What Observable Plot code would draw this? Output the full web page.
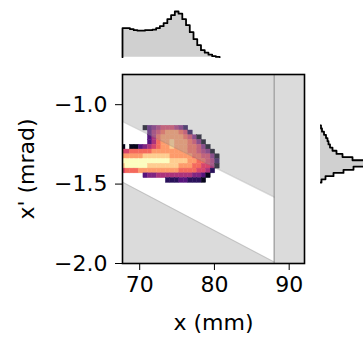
<!DOCTYPE html>
<html><head><meta charset="utf-8">
<script src="https://cdn.jsdelivr.net/npm/d3@7"></script>
<script src="https://cdn.jsdelivr.net/npm/@observablehq/plot@0.6"></script>
<style>
html,body{margin:0;padding:0;background:#fff;overflow:hidden;}
#fig{position:relative;width:363px;height:339px;overflow:hidden;font-family:"DejaVu Sans";}
#fig svg{position:absolute;top:0;background:transparent;}
</style></head><body><div id="fig"></div>
<script>
// axes
const xDomain = [67.7, 92.05];
const yDomain = [-2.0, -0.81];
const xTicks = [70, 80, 90];
const yTicks = [-2.0, -1.5, -1.0];

// acceptance boundaries (x in mm, x' in mrad)
const accX = [67.0, 88.0];
const accUpper = [-1.09, -1.582];
const accLower = [-1.47, -1.99];
const accXmax = 88.0;

// beam density heatmap
const colEdges = [67.5,68.1,68.7,69.3,69.9,70.5,71.1,71.7,72.3,72.9,73.5,74.1,74.7,75.3,75.9,76.5,77.1,77.7,78.3,78.9,79.5,80.1,80.7];
const rowEdges = [-1.1325,-1.1625,-1.1925,-1.2225,-1.2525,-1.2825,-1.3125,-1.3425,-1.3725,-1.4025,-1.4325,-1.4625,-1.4925];
const heat = [
  [0,0,0,0,0,1,3,4,5,6,6,6,5,4,2,0,0,0,0,0,0,0],
  [0,0,0,0,0,0,3,5,6,7,8,8,8,7,6,2,0,0,0,0,0,0],
  [0,0,0,0,0,0,3,5,7,8,8,8,8,8,7,6,4,1,0,0,0,0],
  [0,0,0,0,0,0,3,5,7,8,8,9,8,8,8,7,6,4,1,0,0,0],
  [1,0,1,1,3,4,5,6,7,8,8,9,8,8,8,7,7,6,4,1,0,0],
  [6,6,7,7,7,7,7,8,8,8,8,8,8,8,8,7,7,6,5,4,1,0],
  [8,8,8,8,8,9,9,9,9,9,9,8,8,8,8,8,7,7,6,6,4,1],
  [10,10,10,10,10,10,10,10,10,10,10,9,9,9,9,8,8,7,7,6,5,2],
  [9,10,10,10,10,10,9,9,9,9,9,9,9,8,8,8,7,7,6,6,5,1],
  [6,7,7,7,8,8,8,8,8,8,8,8,8,7,7,7,7,6,6,5,2,0],
  [0,0,0,0,0,3,4,4,5,5,5,5,5,5,5,5,4,4,3,1,0,0],
  [0,0,0,0,0,0,0,0,0,0,2,2,2,3,3,2,2,2,1,0,0,0]
];

// marginal histogram in x (top)
const histXEdges = [67.7,68.2,68.7,69.2,69.7,70.2,70.7,71.2,71.7,72.2,72.7,73.2,73.7,74.2,74.7,75.2,75.7,76.2,76.7,77.2,77.7,78.2,78.7,79.2,79.7,80.2,80.7];
const histXCounts = [29,29,28,27,26.5,26.5,27,27,27.5,29,31,34,38,42,45.7,43.5,38,32,25,18,12,7,4.5,2.5,1,0.3];

// marginal histogram in x' (right)
const histYEdges = [-1.13,-1.15,-1.17,-1.19,-1.21,-1.23,-1.25,-1.27,-1.29,-1.31,-1.33,-1.35,-1.37,-1.39,-1.41,-1.43,-1.45,-1.47,-1.49];
const histYCounts = [0.5,1.5,3.5,5.5,7,8,9.5,12,16,22,32,45,48,33,23,13,5,1];

function stepPoints(edges, counts) {
  const pts = [{e: edges[0], v: 0}];
  counts.forEach((c, i) => pts.push({e: edges[i], v: c}));
  pts.push({e: edges[edges.length - 1], v: 0});
  return pts;
}

const cells = [];
heat.forEach((row, r) => row.forEach((v, c) => {
  if (v > 0) cells.push({x1: colEdges[c], x2: colEdges[c + 1], y1: rowEdges[r + 1], y2: rowEdges[r], v});
}));
const upperPoly = accX.map((x, i) => ({x, lo: accUpper[i], hi: yDomain[1]}));
const lowerPoly = accX.map((x, i) => ({x, lo: yDomain[0], hi: accLower[i]}));
const grayFill = "#9a9a9a", grayOp = 0.36, edgeGray = "#808080";
const fontStyle = {fontFamily: "DejaVu Sans", fontSize: "22px", background: "transparent", color: "black"};

const mainPlot = Plot.plot({
  width: 363, height: 339,
  marginLeft: 122, marginRight: 59, marginTop: 74, marginBottom: 76,
  style: fontStyle,
  x: {domain: xDomain},
  y: {domain: yDomain},
  color: {type: "linear", scheme: "magma", domain: [0.5, 10]},
  marks: [
    Plot.rect(cells, {x1: "x1", x2: "x2", y1: "y1", y2: "y2", fill: "v", stroke: "v", strokeWidth: 0.4, clip: true}),
    Plot.areaY(upperPoly, {x: "x", y1: "lo", y2: "hi", fill: grayFill, fillOpacity: grayOp, clip: true}),
    Plot.areaY(lowerPoly, {x: "x", y1: "lo", y2: "hi", fill: grayFill, fillOpacity: grayOp, clip: true}),
    Plot.rect([{x1: accXmax, x2: xDomain[1], y1: yDomain[0], y2: yDomain[1]}], {x1: "x1", x2: "x2", y1: "y1", y2: "y2", fill: grayFill, fillOpacity: grayOp, clip: true}),
    Plot.line(accX.map((x, i) => ({x, y: accUpper[i]})), {x: "x", y: "y", stroke: edgeGray, strokeOpacity: 0.3, strokeWidth: 1.2, clip: true}),
    Plot.line(accX.map((x, i) => ({x, y: accLower[i]})), {x: "x", y: "y", stroke: edgeGray, strokeOpacity: 0.3, strokeWidth: 1.2, clip: true}),
    Plot.ruleX([accXmax], {stroke: edgeGray, strokeOpacity: 0.55, strokeWidth: 1.6}),
    Plot.frame({stroke: "black", strokeWidth: 1.6}),
    Plot.axisX({ticks: xTicks, tickFormat: d3.format("d"), tickSize: 7, tickPadding: 6, fontSize: 22,
      label: "x (mm)", labelAnchor: "center", labelArrow: "none", labelOffset: 66}),
    Plot.axisY({ticks: yTicks, tickFormat: d3.format(".1f"), tickSize: 7, tickPadding: 8, fontSize: 22,
      label: "x' (mrad)", labelAnchor: "center", labelArrow: "none", labelOffset: 104})
  ]
});
mainPlot.style.left = "0px";

const topPts = stepPoints(histXEdges, histXCounts);
const topPlot = Plot.plot({
  width: 363, height: 60,
  marginLeft: 122, marginRight: 59, marginTop: 6.7, marginBottom: 3.3,
  style: fontStyle,
  x: {domain: xDomain, axis: null},
  y: {domain: [0, 50], axis: null},
  marks: [
    Plot.areaY(topPts, {x: "e", y: "v", curve: "step-after", fill: "#d0d0d0"}),
    Plot.line(topPts, {x: "e", y: "v", curve: "step-after", stroke: "black", strokeWidth: 1.8})
  ]
});
topPlot.style.left = "0px";

const rightPts = stepPoints(histYEdges, histYCounts);
const rightPlot = Plot.plot({
  width: 60, height: 339,
  marginLeft: 0, marginRight: 0, marginTop: 74, marginBottom: 76,
  style: fontStyle,
  x: {domain: [0, 60], axis: null},
  y: {domain: yDomain, axis: null},
  marks: [
    Plot.areaX(rightPts, {y: "e", x: "v", curve: "step-before", fill: "#d0d0d0"}),
    Plot.line(rightPts, {y: "e", x: "v", curve: "step-before", stroke: "black", strokeWidth: 1.8})
  ]
});
rightPlot.style.left = "320px";

const fig = document.getElementById("fig");
fig.appendChild(mainPlot);
fig.appendChild(topPlot);
fig.appendChild(rightPlot);
</script></body></html>
